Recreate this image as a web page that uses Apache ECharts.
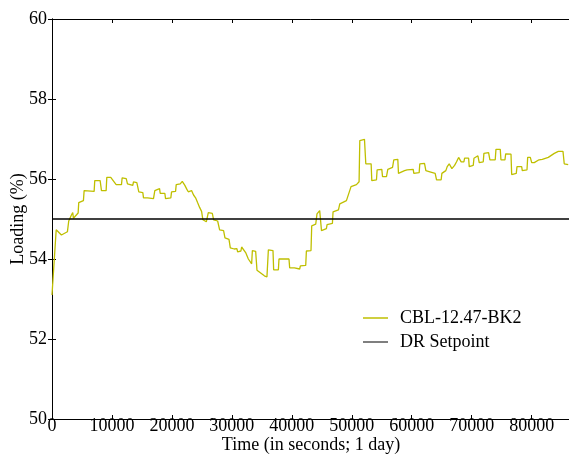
<!DOCTYPE html>
<html>
<head>
<meta charset="utf-8">
<script src="https://cdn.jsdelivr.net/npm/echarts@6/dist/echarts.min.js"></script>
<style>html,body{margin:0;padding:0;background:#fff;}#c{width:569px;height:459px;}</style>
</head>
<body>
<div id="c"></div>
<script>
var seriesNames = ['CBL-12.47-BK2', 'DR Setpoint'];
var xTicks = [0, 10000, 20000, 30000, 40000, 50000, 60000, 70000, 80000];
var yTicks = [50, 52, 54, 56, 58, 60];
var setpoint = 55;
var cblTime = [0,700,1570,2570,2790,3240,3460,3570,4360,4460,5240,5360,7030,7130,8030,8250,9030,9140,9800,10700,11590,11700,12380,12590,13480,13590,14150,14480,15150,15260,15930,16150,16930,17150,17940,18050,18820,18940,19820,19940,20610,20720,21390,21730,21940,22160,22500,22730,22950,23280,23450,23610,23950,24280,24620,24950,25170,25740,26070,26740,26960,27630,27960,28620,28850,29520,29740,30400,30510,30840,30960,31510,31630,31960,32300,32600,32750,33300,33420,33970,34190,34640,34860,35420,35850,36090,36860,36970,37760,37860,39530,39640,40430,40530,41310,41430,42320,42430,43200,43320,43990,44200,44650,44800,44950,45770,45880,46770,46880,47780,48000,49110,49350,49880,50780,51220,51340,52120,52340,53230,53340,54120,54230,55010,55130,55790,56010,56800,57010,57680,57790,58800,59230,60250,60350,61240,61350,62130,62360,63030,63140,63910,64140,64910,65030,65690,65920,66250,66700,67150,67480,67820,68040,68250,68700,68820,69490,69590,70260,70380,71040,71260,71930,72040,72820,73040,73930,74050,74770,74880,75550,75670,76560,76670,77440,77560,78340,78440,79230,79340,79780,80010,80440,81230,81780,82110,82780,83780,84000,84450,85230,85440,86100];
var cblLoad = [53.1,54.73,54.6,54.68,54.95,55.1,55.16,55.02,55.15,55.41,55.46,55.71,55.69,55.96,55.96,55.71,55.71,56.04,56.04,55.86,55.86,56.03,56.01,55.88,55.84,55.93,55.91,55.68,55.66,55.53,55.53,55.48,55.51,55.71,55.76,55.64,55.64,55.51,55.53,55.68,55.69,55.86,55.88,55.94,55.93,55.84,55.74,55.68,55.63,55.71,55.66,55.6,55.53,55.41,55.29,55.19,54.98,54.93,55.16,55.14,54.98,54.95,54.73,54.71,54.53,54.49,54.28,54.25,54.28,54.26,54.18,54.2,54.3,54.25,54.16,54.13,54.0,53.88,54.21,54.19,53.72,53.67,53.65,53.58,53.55,54.23,54.21,53.73,53.73,54.0,54.0,53.78,53.78,53.73,53.75,53.83,53.84,54.2,54.21,54.83,54.87,55.13,55.21,55.2,54.71,54.76,54.86,54.89,55.18,55.23,55.38,55.46,55.45,55.81,55.86,55.93,56.96,56.99,56.38,56.38,55.96,55.98,56.23,56.24,56.06,56.06,56.24,56.29,56.48,56.49,56.14,56.21,56.23,56.24,56.14,56.16,56.38,56.39,56.21,56.18,56.14,56.14,55.98,55.98,56.14,56.21,56.31,56.38,56.26,56.34,56.43,56.54,56.57,56.43,56.43,56.52,56.52,56.31,56.34,56.52,56.58,56.41,56.43,56.64,56.66,56.48,56.48,56.74,56.74,56.48,56.48,56.63,56.62,56.11,56.14,56.31,56.31,56.21,56.23,56.54,56.54,56.41,56.41,56.48,56.49,56.52,56.54,56.64,56.64,56.69,56.69,56.38,56.36];

var cblData = cblTime.map(function (t, i) { return [t, cblLoad[i]]; });
var spData = [[0, setpoint], [86400, setpoint]];

var font = 'Liberation Serif';
var plain = function (v) { return String(v); };
var chart = echarts.init(document.getElementById('c'), null, {renderer: 'canvas'});
var axisLineStyle = {show: true, lineStyle: {color: '#000', width: 1}};
chart.setOption({
  animation: false,
  backgroundColor: '#fff',
  grid: {left: 52, top: 19, width: 518, height: 400, containLabel: false, outerBoundsMode: 'none'},
  xAxis: [{
    type: 'value', min: 0, max: 86400, interval: 10000, position: 'bottom',
    name: 'Time (in seconds; 1 day)', nameLocation: 'middle', nameGap: 17, nameMoveOverlap: false,
    nameTextStyle: {fontFamily: font, fontSize: 18, color: '#000'},
    axisLine: axisLineStyle, splitLine: {show: false},
    axisTick: {inside: true, length: 4, lineStyle: {color: '#000'}},
    axisLabel: {fontFamily: font, fontSize: 18, color: '#000', margin: -2, showMaxLabel: false, formatter: plain}
  }, {
    type: 'value', min: 0, max: 86400, interval: 10000, position: 'top',
    axisLine: axisLineStyle, splitLine: {show: false},
    axisTick: {inside: true, length: 4, lineStyle: {color: '#000'}},
    axisLabel: {show: false}
  }],
  yAxis: [{
    type: 'value', min: 50, max: 60, interval: 2, position: 'left',
    name: 'Loading (%)', nameLocation: 'middle', nameGap: 25, nameRotate: 90, nameMoveOverlap: false,
    nameTextStyle: {fontFamily: font, fontSize: 18, color: '#000'},
    axisLine: axisLineStyle, splitLine: {show: false},
    axisTick: {inside: true, length: 4, lineStyle: {color: '#000'}},
    axisLabel: {fontFamily: font, fontSize: 18, color: '#000', margin: 5, formatter: plain}
  }, {
    type: 'value', min: 50, max: 60, interval: 2, position: 'right',
    axisLine: axisLineStyle, splitLine: {show: false},
    axisTick: {inside: true, length: 4, lineStyle: {color: '#000'}},
    axisLabel: {show: false}
  }],
  legend: {
    orient: 'vertical', left: 358, top: 304, itemGap: 6,
    itemWidth: 25, itemHeight: 1.5, icon: 'rect',
    textStyle: {fontFamily: font, fontSize: 18, color: '#000', padding: [0, 0, 0, 7]},
    data: seriesNames
  },
  series: [{
    name: seriesNames[0], type: 'line', data: cblData, showSymbol: false, symbol: 'none',
    lineStyle: {color: '#bfbf00', width: 1.3}, itemStyle: {color: '#bfbf00'}, z: 2
  }, {
    name: seriesNames[1], type: 'line', data: spData, showSymbol: false, symbol: 'none',
    lineStyle: {color: '#000', width: 1.6}, itemStyle: {color: '#555'}, z: 3
  }]
});
</script>
</body>
</html>
